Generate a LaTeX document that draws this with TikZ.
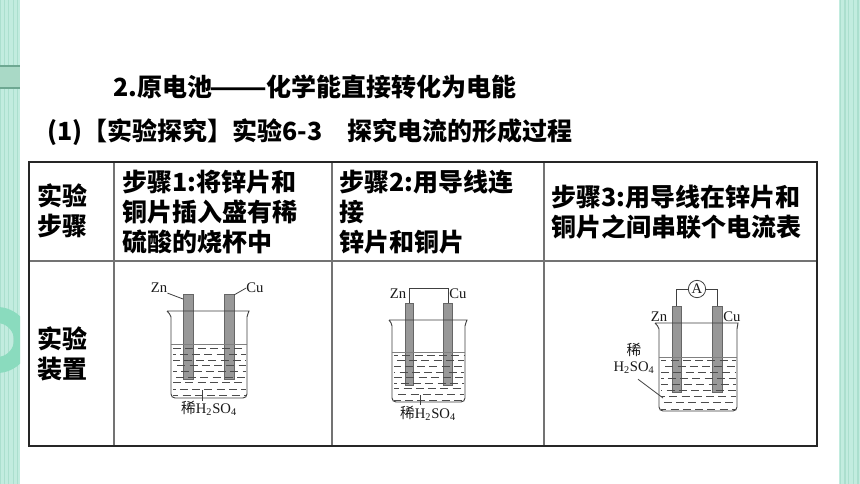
\documentclass[tikz,border=0pt]{standalone}
\usepackage{fontspec}
\usepackage{graphicx}
\setmainfont{Noto Sans CJK SC}
\newfontfamily\timesfont{Liberation Serif}
\newfontfamily\cjkfont{Noto Sans CJK SC}
\definecolor{mintbg}{HTML}{C2ECDF}
\definecolor{mintline}{HTML}{ABDFCE}
\definecolor{mintband}{HTML}{A9D9C6}
\definecolor{mintedge}{HTML}{6EA892}
\definecolor{mintring}{HTML}{8ADBBE}
\definecolor{plategray}{HTML}{989898}
\tikzset{
  heading/.style={anchor=west,inner sep=0pt,font=\bfseries\fontsize{18.75}{22.5}\selectfont},
  celltext/.style={heading,align=left},
  chem/.style={inner sep=0pt,font=\timesfont\fontsize{11}{12}\selectfont,text=black!90},
  plate/.style={draw=black!60,fill=plategray,line width=0.5pt},
  glass/.style={draw=black!75,line width=0.7pt},
  wire/.style={draw=black!75,line width=0.6pt},
  acid/.style={draw=black!70,line width=0.55pt,dash pattern=on 6pt off 3.2pt},
  outer/.style={draw=black!85,line width=1.5pt},
  inner/.style={draw=black!55,line width=1pt},
}
\begin{document}
\begin{tikzpicture}[x=0.75pt,y=-0.75pt]
\useasboundingbox (0,0) rectangle (860,484);
\fill [white] (0,0) rectangle (860,484);
\fill [mintbg] (0,0) rectangle (20,484);
\fill [mintbg] (839,0) rectangle (860,484);
\draw [mintline,line width=0.3pt,step=4.33] (0,0) grid (20,484);
\draw [mintline,line width=0.3pt,step=4.33] (839,0) grid (860,484);
\draw [mintline,line width=0.6pt,step=13] (0,0) grid (20,484);
\draw [mintline,line width=0.6pt,step=13] (839,0) grid (860,484);
\fill [mintband] (0,66) rectangle (20,88);
\draw [mintedge,line width=1pt] (0,66) -- (20,66) (0,88) -- (20,88);
\begin{scope}
\clip (0,0) rectangle (20,484);
\fill [mintring,even odd rule] (-3,340) circle (33) (-3,340) circle (17);
\end{scope}

\node [heading] (title) at (113,87) {2.原电池\hspace{-0.1em}\scalebox{1.35}[1]{——}\hspace{-0.05em}化学能直接转化为电能};
\node [heading] (subtitle) at (47,132) {(1)【实验探究】实验6-3\hspace{1em}探究电流的形成过程};

\coordinate (tl) at (29,162);
\coordinate (tr) at (817,162);
\coordinate (bl) at (29,446);
\coordinate (br) at (817,446);
\draw [inner] (114,162) -- (114,446);
\draw [inner] (332,162) -- (332,446);
\draw [inner] (544,162) -- (544,446);
\draw [inner] (29,261) -- (817,261);
\draw [outer] (tl) -- (tr) -- (br) -- (bl) -- cycle;

\node [celltext] (stephead) at (37,211) {实验\\步骤};
\node [celltext] (stepone) at (122,212) {步骤1:将锌片和\\铜片插入盛有稀\\硫酸的烧杯中};
\node [celltext] (steptwo) at (339,212) {步骤2:用导线连\\接\\锌片和铜片};
\node [celltext] (stepthree) at (551,212) {步骤3:用导线在锌片和\\铜片之间串联个电流表};
\node [celltext] (devicehead) at (37,354) {实验\\装置};

\draw [plate] (183,294) rectangle (193,379);
\draw [plate] (224,294) rectangle (234,379);
\draw [glass] (167,311) -- (249,311) to[out=260,in=90] (247,317) -- (247,394) to[out=-90,in=0] (243,398) -- (175,398) to[out=180,in=-90] (171,394) -- (171,317) to[out=90,in=-60] (167,311);
\draw [glass,black!50] (171,344) -- (247,344);
\foreach \y/\p in {348/0,354/4,360/1,365/6,371/3,377/7,382/0,389/4,395/2}
  \draw [acid,dash phase=\p pt] (173,\y) -- (246,\y);
\node [chem] (zna) at (159,288) {Zn};
\node [chem] (cua) at (255,288) {Cu};
\coordinate (znap) at (183,299);
\coordinate (cuap) at (234,295);
\draw [wire] (zna.south east) -- (znap);
\draw [wire] (cua.west) -- (cuap);
\node [chem] (acida) at (209,408) {{\cjkfont 稀}H\textsubscript{2}SO\textsubscript{4}};
\coordinate (acidap) at (202,390);
\draw [wire] (acidap) -- (202,401);

\draw [plate] (405,303) rectangle (413,385);
\draw [plate] (443,303) rectangle (452,385);
\draw [glass] (389,320) -- (467,320) to[out=260,in=90] (465,326) -- (465,398) to[out=-90,in=0] (461,402) -- (396,402) to[out=180,in=-90] (392,398) -- (392,326) to[out=90,in=-60] (389,320);
\draw [glass,black!50] (392,352) -- (465,352);
\foreach \y/\p in {355/3,360/7,366/1,372/5,377/0,383/4,388/2,394/6,400/1}
  \draw [acid,dash phase=\p pt] (394,\y) -- (464,\y);
\coordinate (znbp) at (409,303);
\coordinate (cubp) at (448,303);
\draw [wire] (znbp) -- (409,288) -- (448,288) -- (cubp);
\node [chem] (znb) at (398,294) {Zn};
\node [chem] (cub) at (458,294) {Cu};
\node [chem] (acidb) at (428,413) {{\cjkfont 稀}H\textsubscript{2}SO\textsubscript{4}};
\coordinate (acidbp) at (420,395);
\draw [wire] (acidbp) -- (acidb.north -| acidbp);

\draw [plate] (672,306) rectangle (681,392);
\draw [plate] (712,306) rectangle (722,392);
\draw [glass] (655,323) -- (738,323) to[out=260,in=90] (737,329) -- (737,407) to[out=-90,in=0] (733,411) -- (663,411) to[out=180,in=-90] (659,407) -- (659,329) to[out=90,in=-60] (655,323);
\draw [glass,black!50] (659,357) -- (737,357);
\foreach \y/\p in {360/2,366/6,372/0,378/4,384/1,390/5,396/3,402/7,409/2}
  \draw [acid,dash phase=\p pt] (661,\y) -- (736,\y);
\node [chem,draw=black!75,line width=0.6pt,circle,minimum size=13pt] (meter) at (697,289) {A};
\coordinate (zncp) at (676.5,306);
\coordinate (cucp) at (717,306);
\draw [wire] (meter.west) -| (zncp);
\draw [wire] (meter.east) -| (cucp);
\node [chem] (znc) at (659,317) {Zn};
\node [chem] (cuc) at (732,317) {Cu};
\node [chem] (xi) at (634,350) {\cjkfont 稀};
\node [chem] (acidc) at (634,368) {H\textsubscript{2}SO\textsubscript{4}};
\coordinate (acidcp) at (663,398);
\draw [wire] (acidc.south) ++(4,5) -- (acidcp);
\end{tikzpicture}
\end{document}
